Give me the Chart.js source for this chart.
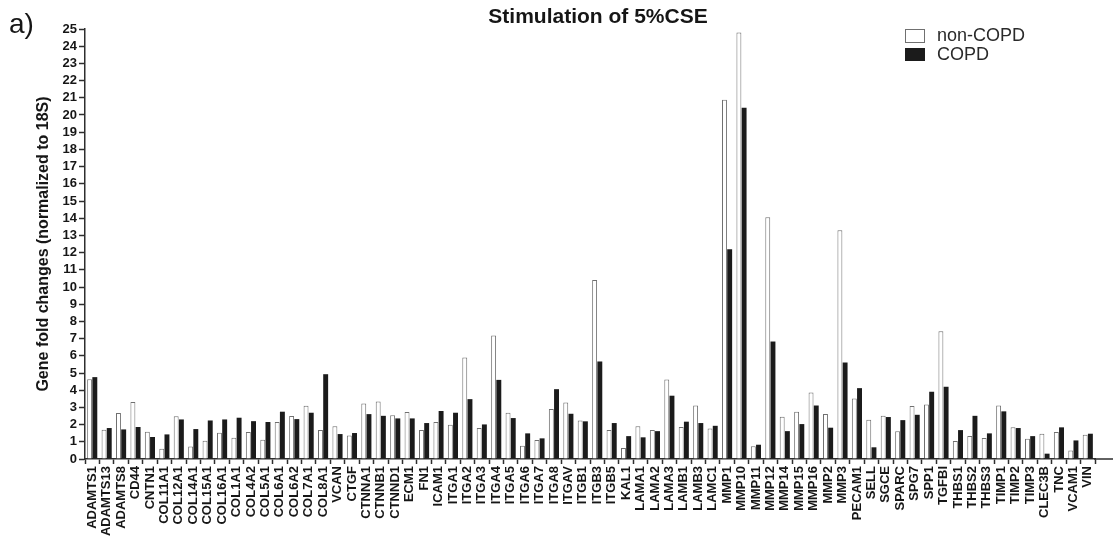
<!DOCTYPE html>
<html>
<head>
<meta charset="utf-8">
<script src="https://cdn.jsdelivr.net/npm/chart.js@4/dist/chart.umd.min.js"></script>
<style>
  html, body { margin: 0; padding: 0; background: #ffffff; }
  #wrap { width: 1116px; height: 536px; position: relative; }
</style>
</head>
<body>
<div id="wrap"><canvas id="c" width="1116" height="536"></canvas></div>
<script>
// Genes on the x axis
const genes = [
  'ADAMTS1','ADAMTS13','ADAMTS8','CD44','CNTN1','COL11A1','COL12A1','COL14A1','COL15A1','COL16A1',
  'COL1A1','COL4A2','COL5A1','COL6A1','COL6A2','COL7A1','COL8A1','VCAN','CTGF','CTNNA1',
  'CTNNB1','CTNND1','ECM1','FN1','ICAM1','ITGA1','ITGA2','ITGA3','ITGA4','ITGA5',
  'ITGA6','ITGA7','ITGA8','ITGAV','ITGB1','ITGB3','ITGB5','KAL1','LAMA1','LAMA2',
  'LAMA3','LAMB1','LAMB3','LAMC1','MMP1','MMP10','MMP11','MMP12','MMP14','MMP15',
  'MMP16','MMP2','MMP3','PECAM1','SELL','SGCE','SPARC','SPG7','SPP1','TGFBI',
  'THBS1','THBS2','THBS3','TIMP1','TIMP2','TIMP3','CLEC3B','TNC','VCAM1','VIN'
];

// Fold changes (normalized to 18S) after 5% CSE stimulation
const nonCopd = [
  4.64, 1.70, 2.67, 3.31, 1.59, 0.60, 2.48, 0.72, 1.06, 1.53,
  1.24, 1.57, 1.12, 2.15, 2.50, 3.09, 1.68, 1.91, 1.37, 3.23,
  3.35, 2.55, 2.73, 1.68, 2.15, 1.99, 5.90, 1.80, 7.18, 2.69,
  0.77, 1.10, 2.90, 3.29, 2.24, 10.40, 1.68, 0.64, 1.90, 1.68,
  4.62, 1.86, 3.11, 1.78, 20.88, 24.79, 0.74, 14.05, 2.46, 2.75,
  3.87, 2.61, 13.30, 3.52, 2.28, 2.51, 1.62, 3.08, 3.17, 7.43,
  1.04, 1.33, 1.22, 3.11, 1.84, 1.18, 1.47, 1.57, 0.50, 1.41
];
const copd = [
  4.76, 1.80, 1.72, 1.86, 1.28, 1.43, 2.30, 1.74, 2.24, 2.30,
  2.40, 2.20, 2.15, 2.75, 2.32, 2.69, 4.93, 1.45, 1.51, 2.61,
  2.51, 2.36, 2.36, 2.09, 2.79, 2.69, 3.48, 2.01, 4.60, 2.38,
  1.49, 1.20, 4.06, 2.63, 2.19, 5.67, 2.09, 1.33, 1.26, 1.62,
  3.68, 2.17, 2.09, 1.93, 12.20, 20.42, 0.83, 6.83, 1.62, 2.03,
  3.11, 1.82, 5.61, 4.12, 0.68, 2.44, 2.26, 2.57, 3.91, 4.20,
  1.68, 2.51, 1.49, 2.77, 1.80, 1.33, 0.31, 1.84, 1.08, 1.47
];

const seriesNames = ['non-COPD', 'COPD'];
const yMin = 0, yMax = 25, yStep = 1;

const FONT = 'Arial, "Liberation Sans", Helvetica, sans-serif';
const INK = '#161616';
const AXIS = '#2e2e2e';

// Title, panel letter, legend and the axis line running past the last group
const decorations = {
  id: 'decorations',
  afterDraw(chart) {
    const ctx = chart.ctx;
    const area = chart.chartArea;
    ctx.save();

    // x axis continues a little to the right of the last category
    ctx.strokeStyle = AXIS;
    ctx.lineWidth = 1.5;
    ctx.beginPath();
    ctx.moveTo(area.right - 1, area.bottom);
    ctx.lineTo(1113, area.bottom);
    ctx.stroke();

    // panel letter
    ctx.fillStyle = INK;
    ctx.font = '28px ' + FONT;
    ctx.textAlign = 'left';
    ctx.textBaseline = 'alphabetic';
    ctx.fillText('a)', 9, 33);

    // chart title
    ctx.font = 'bold 21px ' + FONT;
    ctx.textAlign = 'center';
    ctx.fillText('Stimulation of 5%CSE', 598, 23);

    // legend
    const boxes = [
      { y: 29, h: 14 },
      { y: 48, h: 13 }
    ];
    ctx.font = '18px ' + FONT;
    ctx.textAlign = 'left';
    ctx.textBaseline = 'middle';
    chart.data.datasets.forEach((ds, i) => {
      const b = boxes[i];
      ctx.fillStyle = ds.backgroundColor;
      ctx.fillRect(905, b.y, 20, b.h);
      ctx.strokeStyle = ds.borderColor;
      ctx.lineWidth = 1;
      ctx.strokeRect(905.5, b.y + 0.5, 19, b.h - 1);
      ctx.fillStyle = '#2a2a2a';
      ctx.fillText(ds.label, 937, b.y + b.h / 2 + 0.5);
    });

    ctx.restore();
  }
};

new Chart(document.getElementById('c'), {
  type: 'bar',
  data: {
    labels: genes,
    datasets: [
      {
        label: seriesNames[0],
        data: nonCopd,
        backgroundColor: '#ffffff',
        borderColor: '#707070',
        borderWidth: 1
      },
      {
        label: seriesNames[1],
        data: copd,
        backgroundColor: '#1b1b1b',
        borderColor: '#1b1b1b',
        borderWidth: 0
      }
    ]
  },
  options: {
    responsive: false,
    animation: false,
    devicePixelRatio: 1,
    layout: { padding: { top: 29, right: 21, bottom: 0, left: 0 } },
    datasets: {
      bar: { categoryPercentage: 0.72, barPercentage: 0.95 }
    },
    plugins: {
      legend: { display: false },
      title: { display: false },
      tooltip: { enabled: false }
    },
    scales: {
      x: {
        offset: true,
        grid: {
          display: true,
          drawOnChartArea: false,
          drawTicks: true,
          tickLength: 5,
          tickColor: AXIS,
          tickWidth: 1.5
        },
        border: { display: true, color: AXIS, width: 1.5 },
        ticks: {
          autoSkip: false,
          maxRotation: 90,
          minRotation: 90,
          padding: 2,
          color: INK,
          font: { family: FONT, size: 13, weight: 'bold' }
        },
        afterFit(scale) { scale.height = 77; }
      },
      y: {
        min: yMin,
        max: yMax,
        grid: {
          display: true,
          drawOnChartArea: false,
          drawTicks: true,
          tickLength: 6,
          tickColor: AXIS,
          tickWidth: 1.5
        },
        border: { display: true, color: AXIS, width: 1.5 },
        ticks: {
          stepSize: yStep,
          autoSkip: false,
          padding: 2,
          color: INK,
          font: { family: FONT, size: 13, weight: 'bold' }
        },
        title: {
          display: true,
          text: 'Gene fold changes (normalized to 18S)',
          color: INK,
          font: { family: FONT, size: 16, weight: 'bold' },
          padding: { top: 34, bottom: 0 }
        },
        afterFit(scale) { scale.width = 85; }
      }
    }
  },
  plugins: [decorations]
});
</script>
</body>
</html>
